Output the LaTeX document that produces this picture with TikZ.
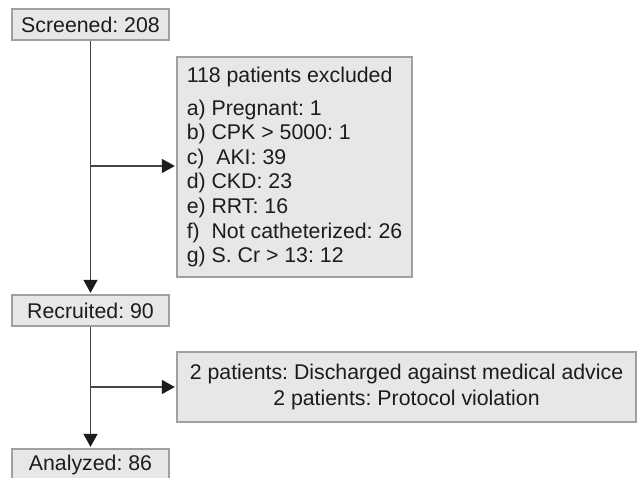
\documentclass[tikz,border=0pt]{standalone}
\usepackage{fontspec}
\setmainfont{Liberation Sans}
\usetikzlibrary{arrows.meta}
\definecolor{boxfill}{RGB}{231,231,231}
\definecolor{boxline}{RGB}{160,160,160}
\definecolor{conn}{RGB}{70,70,70}
\definecolor{txt}{RGB}{30,27,28}
\tikzset{
  fbox/.style={draw=boxline, fill=boxfill, line width=1.3pt, inner sep=0pt, text=txt,
    font=\fontsize{21.3}{24.6}\selectfont},
  arr/.style={draw=conn, line width=1.4pt, shorten >=1.5pt,
    -{Triangle[length=13pt,width=14pt,fill=txt,color=txt]}},
}
\frenchspacing
\begin{document}
\begin{tikzpicture}[x=1pt,y=-1pt]
\useasboundingbox (0,0) rectangle (637,478);
\clip (0,0) rectangle (637,478);
\node[fbox, minimum width=157pt, minimum height=31pt] (scr) at (90.5,24.5) {Screened: 208};
\node[fbox, minimum width=157pt, minimum height=31pt] (rec) at (90.5,310.5) {Recruited: 90};
\node[fbox, minimum width=157pt, minimum height=31pt] (ana) at (90.5,464.5) {Analyzed: 86};
\node[fbox, minimum width=235pt, minimum height=220pt, align=left] (exc) at (294.5,167)
  {\frenchspacing \raisebox{0pt}[0pt][0pt]{}118 patients excluded\\[8pt]
   a) Pregnant: 1\\
   b) CPK > 5000: 1\\
   c)\ \ AKI: 39\\
   d) CKD: 23\\
   e) RRT: 16\\
   f)\ \ Not catheterized: 26\\
   g) S. Cr > 13: 12};
\node[fbox, minimum width=459pt, minimum height=70pt, align=center, font=\fontsize{21.3}{26}\selectfont] (wd) at (406.5,387)
  {\frenchspacing 2 patients: Discharged against medical advice\\2 patients: Protocol violation};
\coordinate (b1) at (90.5,166);
\coordinate (b2) at (90.5,387);
\draw[arr] (scr) -- (rec);
\draw[arr] (b1) -- (b1 -| exc.west);
\draw[arr] (rec) -- (ana);
\draw[arr] (b2) -- (wd.west);
\end{tikzpicture}
\end{document}
